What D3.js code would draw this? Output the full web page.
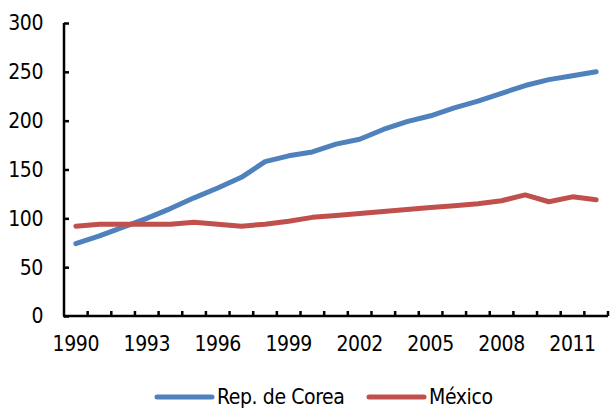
<!DOCTYPE html>
<html>
<head>
<meta charset="utf-8">
<script src="https://cdn.jsdelivr.net/npm/d3@7"></script>
<style>
  body { margin: 0; background: #fff; }
  text { font-family: "Liberation Sans Narrow", "DejaVu Sans Condensed", "Arial Narrow", sans-serif; fill: #000; letter-spacing: -0.4px; }
</style>
</head>
<body>
<div id="chart"></div>
<script>
const years = d3.range(1990, 2013);
const yearLabels = [1990, 1993, 1996, 1999, 2002, 2005, 2008, 2011];
const yTicks = [0, 50, 100, 150, 200, 250, 300];

const corea = [74, 82, 91, 100, 110, 121, 131, 142, 158, 164, 168, 176, 181, 191, 199, 205, 213, 220, 228, 236, 242, 246, 250];
const mexico = [92, 94, 94, 94, 94, 96, 94, 92, 94, 97, 101, 103, 105, 107, 109, 111, 113, 115, 118, 124, 117, 122, 119];

const series = [
  { name: "Rep. de Corea", color: "#4F81BD", values: corea },
  { name: "México", color: "#C0504D", values: mexico }
];

const W = 610, H = 408;
const margin = { top: 23, left: 64, right: 2, bottom: 92 };

const svg = d3.select("#chart").append("svg")
  .attr("width", W)
  .attr("height", H);

const x = d3.scaleBand()
  .domain(years)
  .range([margin.left, W - margin.right]);

const y = d3.scaleLinear()
  .domain([0, 300])
  .range([H - margin.bottom, margin.top]);

// lines
const line = d3.line()
  .x((d, i) => x(years[i]) + x.bandwidth() / 2)
  .y(d => y(d));

svg.selectAll(".series")
  .data(series)
  .enter()
  .append("path")
  .attr("class", "series")
  .attr("fill", "none")
  .attr("stroke", d => d.color)
  .attr("stroke-width", 5)
  .attr("stroke-linecap", "round")
  .attr("stroke-linejoin", "round")
  .attr("d", d => line(d.values));

// y axis (ticks point inward)
const yAxis = svg.append("g")
  .attr("transform", "translate(" + margin.left + ",0)")
  .call(d3.axisRight(y).tickValues(yTicks).tickSize(5).tickFormat(""));
yAxis.select(".domain").attr("d", "M0," + y(300) + "V" + y(0)).attr("stroke-width", 2.5);
yAxis.selectAll(".tick line").attr("stroke-width", 2.5);

svg.selectAll(".ylab")
  .data(yTicks)
  .enter()
  .append("text")
  .attr("class", "ylab")
  .attr("x", 43)
  .attr("y", d => y(d))
  .attr("dy", "0.35em")
  .attr("text-anchor", "end")
  .style("font-size", "21px")
  .text(d => d);

// x axis with ticks between categories
const xAxis = svg.append("g")
  .attr("transform", "translate(0," + y(0) + ")");
xAxis.append("line")
  .attr("x1", margin.left - 1)
  .attr("x2", W - margin.right)
  .attr("stroke", "#000")
  .attr("stroke-width", 2.5);
xAxis.selectAll(".xtick")
  .data(years)
  .enter()
  .append("line")
  .attr("class", "xtick")
  .attr("x1", d => x(d) + x.bandwidth())
  .attr("x2", d => x(d) + x.bandwidth())
  .attr("y1", 0)
  .attr("y2", -5)
  .attr("stroke", "#000")
  .attr("stroke-width", 2.5);

svg.selectAll(".xlab")
  .data(yearLabels)
  .enter()
  .append("text")
  .attr("class", "xlab")
  .attr("x", d => x(d) + x.bandwidth() / 2)
  .attr("y", y(0) + 28)
  .attr("dy", "0.35em")
  .attr("text-anchor", "middle")
  .style("font-size", "21px")
  .text(d => d);

// legend
const legendX = [157, 369];
const legend = svg.selectAll(".legend")
  .data(series)
  .enter()
  .append("g")
  .attr("class", "legend")
  .attr("transform", (d, i) => "translate(" + legendX[i] + ",397)");
legend.append("line")
  .attr("x1", 0)
  .attr("x2", 55)
  .attr("stroke", d => d.color)
  .attr("stroke-width", 5)
  .attr("stroke-linecap", "round");
legend.append("text")
  .attr("x", 60)
  .attr("dy", "0.35em")
  .style("font-size", "21px")
  .text(d => d.name);
</script>
</body>
</html>
